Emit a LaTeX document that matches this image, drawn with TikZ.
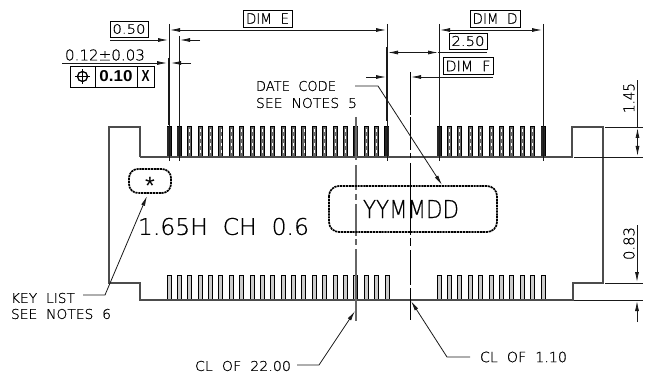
\documentclass[tikz,border=0pt]{standalone}
\usepackage{fontspec}
\usepackage{graphicx}
\setmainfont[FakeBold=0.6]{DejaVu Sans ExtraLight}
\newfontfamily\boldf{Liberation Sans Bold}
\newfontfamily\starf{Liberation Sans}
\usetikzlibrary{arrows.meta}
\newcommand{\fitt}[3]{\resizebox{#1pt}{#2pt}{#3}}
\tikzset{
  x=1pt,y=-1pt,
  lab/.style={inner sep=0pt,outer sep=0pt,text=black},
  boxr/.style={draw=black,line width=.8pt,inner sep=0pt,outer sep=0pt},
  ln/.style={draw=black!90,line width=.8pt},
  bodyl/.style={draw=black!70,line width=1.1pt},
  dimb/.style={ln,{Latex[length=10pt,width=4pt]}-{Latex[length=10pt,width=4pt]}},
  arr/.style={ln,-{Latex[length=10pt,width=4pt]}},
  thick ext/.style={draw=black!90,line width=1.7pt},
  dot box/.style={draw=black,line width=1.7pt,dash pattern=on 2.2pt off .7pt},
  pinb/.style={draw=black,line width=.9pt,fill=black!20},
  pint/.style={draw=black,line width=1pt,fill=black!60},
  pinw/.style={draw=white,line width=.8pt,dash pattern=on 3.5pt off 3.5pt},
}
\begin{document}
\begin{tikzpicture}
\useasboundingbox (0,0) rectangle (653,382);
% pins
\foreach \i in {0,...,21}{\pgfmathsetmacro\px{169+\i*10.38}
  \draw[pint] (\px-2,127) rectangle (\px+2,157);
  \draw[pinw] (\px,129)--(\px,156);
  \draw[pinb] (\px-2,275) rectangle (\px+2,300);}
\foreach \i in {0,...,10}{\pgfmathsetmacro\px{439+\i*10.4}
  \draw[pint] (\px-2,127) rectangle (\px+2,157);
  \draw[pinw] (\px,129)--(\px,156);
  \draw[pinb] (\px-2,275) rectangle (\px+2,300);}
\foreach \px in {169,179,356,387,439,543}{
  \draw[draw=black!85,line width=3.6pt] (\px,127)--(\px,157);
  \draw[draw=black!30,line width=1pt,dash pattern=on 3pt off 4pt] (\px,128)--(\px,156);}
% body
\draw[bodyl] (140,157)--(140,127)--(109,127)--(109,283)--(140,283)--(140,300)--(573,300)--(573,283)--(603,283)--(603,127)--(572,127)--(572,157)--(140,157);
% extension lines
\draw[thick ext] (169,58)--(169,125);
\draw[ln] (169,24)--(169,161);
\draw[ln] (179,36)--(179,161);
\draw[thick ext] (387,47)--(387,121);
\draw[ln] (387,24)--(387,161);
\draw[ln] (439,24)--(439,161);
\draw[ln] (543,24)--(543,161);
\draw[ln] (605,127)--(643,127);
\draw[ln] (574,157)--(643,157);
\draw[ln] (605,283)--(643,283);
\draw[ln] (574,300)--(643,300);
% centre lines
\foreach \a/\b in {117/160,165/190,194/200,204/236,239/245,249/321}
  \draw[draw=black!60,line width=1.2pt] (356,\a)--(356,\b);
\foreach \a/\b in {72/115,117/150,153/158,163/235,238/246,250/285,288/320}
  \draw[draw=black,line width=.8pt] (410,\a)--(410,\b);
% boxes
\node[boxr,minimum width=38pt,minimum height=16pt] (b050) at (129,29) {};
\node[lab] at (b050) {\fitt{33}{9.5}{0.50}};
\node[boxr,minimum width=49pt,minimum height=17pt] (bE) at (267.5,18.5) {};
\node[lab] at (bE) {\fitt{43}{10.5}{DIM~~E}};
\node[boxr,minimum width=50pt,minimum height=17pt] (bD) at (495,18.5) {};
\node[lab] at (bD) {\fitt{45}{10.5}{DIM~~D}};
\node[boxr,minimum width=38pt,minimum height=16pt] (b250) at (468,41) {};
\node[lab] at (b250) {\fitt{33}{10}{2.50}};
\node[boxr,minimum width=50pt,minimum height=17pt] (bF) at (468,66) {};
\node[lab] at (bF) {\fitt{45}{10.5}{DIM~~F}};
% feature control frame
\node[boxr,minimum width=25pt,minimum height=21pt] (f1) at (82.5,76.5) {};
\node[boxr,minimum width=42pt,minimum height=21pt] (f2) at (116,76.5) {};
\node[boxr,minimum width=17pt,minimum height=21pt] (f3) at (145.5,76.5) {};
\draw[draw=black,line width=1.3pt] (f1) circle (5);
\draw[draw=black,line width=1.3pt] (75,76.5)--(90,76.5) (82.5,69.5)--(82.5,84);
\node[lab,text=black] at (f2) {\boldf\fitt{33}{11}{0.10}};
\node[lab,text=black] at (f3) {\boldf\fitt{8}{11}{X}};
% dimension lines
\coordinate (e0) at (170,30); \coordinate (e1) at (386,30);
\draw[dimb] (e0)--(e1);
\coordinate (d0) at (440,30); \coordinate (d1) at (542,30);
\draw[dimb] (d0)--(d1);
\coordinate (t0) at (388,52.5); \coordinate (t1) at (438,52.5);
\draw[dimb] (t0)--(t1);
\draw[ln] (t1)--(487,52.5);
\coordinate (u0) at (110,40); \coordinate (u1) at (168,40);
\draw[arr] (u0)--(u1);
\coordinate (u2) at (200,40); \coordinate (u3) at (180,40);
\draw[arr] (u2)--(u3);
\coordinate (w0) at (62,63); \coordinate (w1) at (167,63);
\draw[arr] (w0)--(w1);
\coordinate (w2) at (191,63); \coordinate (w3) at (171,63);
\draw[arr] (w2)--(w3);
\coordinate (f0) at (493,77); \coordinate (f1e) at (411,77);
\draw[arr] (f0)--(f1e);
\coordinate (g0) at (366,77); \coordinate (g1) at (386,77);
\draw[arr] (g0)--(g1);
% vertical dimensions
\coordinate (h0) at (637.5,128); \coordinate (h1) at (637.5,156);
\draw[dimb] (h0)--(h1);
\draw[ln] (h0)--(637.5,80);
\coordinate (k0) at (637,225); \coordinate (k1) at (637,282);
\draw[arr] (k0)--(k1);
\coordinate (k2) at (637,322); \coordinate (k3) at (637,301);
\draw[arr] (k2)--(k3);
% marking frames
\draw[dot box,rounded corners=10pt] (329,186) rectangle (497,232);
\draw[dot box,rounded corners=9pt] (129,169) rectangle (171,193);
\node[lab,anchor=base] (star) at (150,195) {\starf\fontsize{25}{25}\selectfont *};
\node[lab] (yy) at (411,209) {\fitt{96}{18}{YYMMDD}};
\node[lab] (ch) at (223.5,226.5) {\fitt{171}{17}{1.65H~~CH~~0.6}};
% notes
\node[lab] (dc1) at (296,86) {\fitt{80}{10}{DATE~~CODE}};
\node[lab] (dc2) at (306.5,103) {\fitt{101}{10}{SEE~~NOTES~~5}};
\node[lab] (kl1) at (43,298) {\fitt{64}{10}{KEY~~LIST}};
\node[lab] (kl2) at (61,314) {\fitt{100}{10}{SEE~~NOTES~~6}};
\node[lab] (cl1) at (243,366) {\fitt{96}{10}{CL~~OF~~22.00}};
\node[lab] (cl2) at (523.5,357) {\fitt{87}{10.5}{CL~~OF~~1.10}};
\node[lab,rotate=90] at (629,98) {\fitt{30}{11}{1.45}};
\node[lab,rotate=90] at (629,243.5) {\fitt{33}{11}{0.83}};
% leaders
\coordinate (dcA) at (355,86); \coordinate (dcB) at (378,86); \coordinate (dcC) at (442,185);
\draw[arr] (dcA)--(dcB)--(dcC);
\coordinate (klA) at (83,295); \coordinate (klB) at (105,295); \coordinate (klC) at (147,196);
\draw[arr] (klA)--(klB)--(klC);
\coordinate (c1A) at (297,365); \coordinate (c1B) at (319,365); \coordinate (c1C) at (355,311);
\draw[arr] (c1A)--(c1B)--(c1C);
\coordinate (c2A) at (470,357); \coordinate (c2B) at (447,357); \coordinate (c2C) at (411,301);
\draw[arr] (c2A)--(c2B)--(c2C);
% 0.12 text
\node[lab] (tol) at (105,55) {\fitt{80}{11}{0.12±0.03}};
\end{tikzpicture}
\end{document}
